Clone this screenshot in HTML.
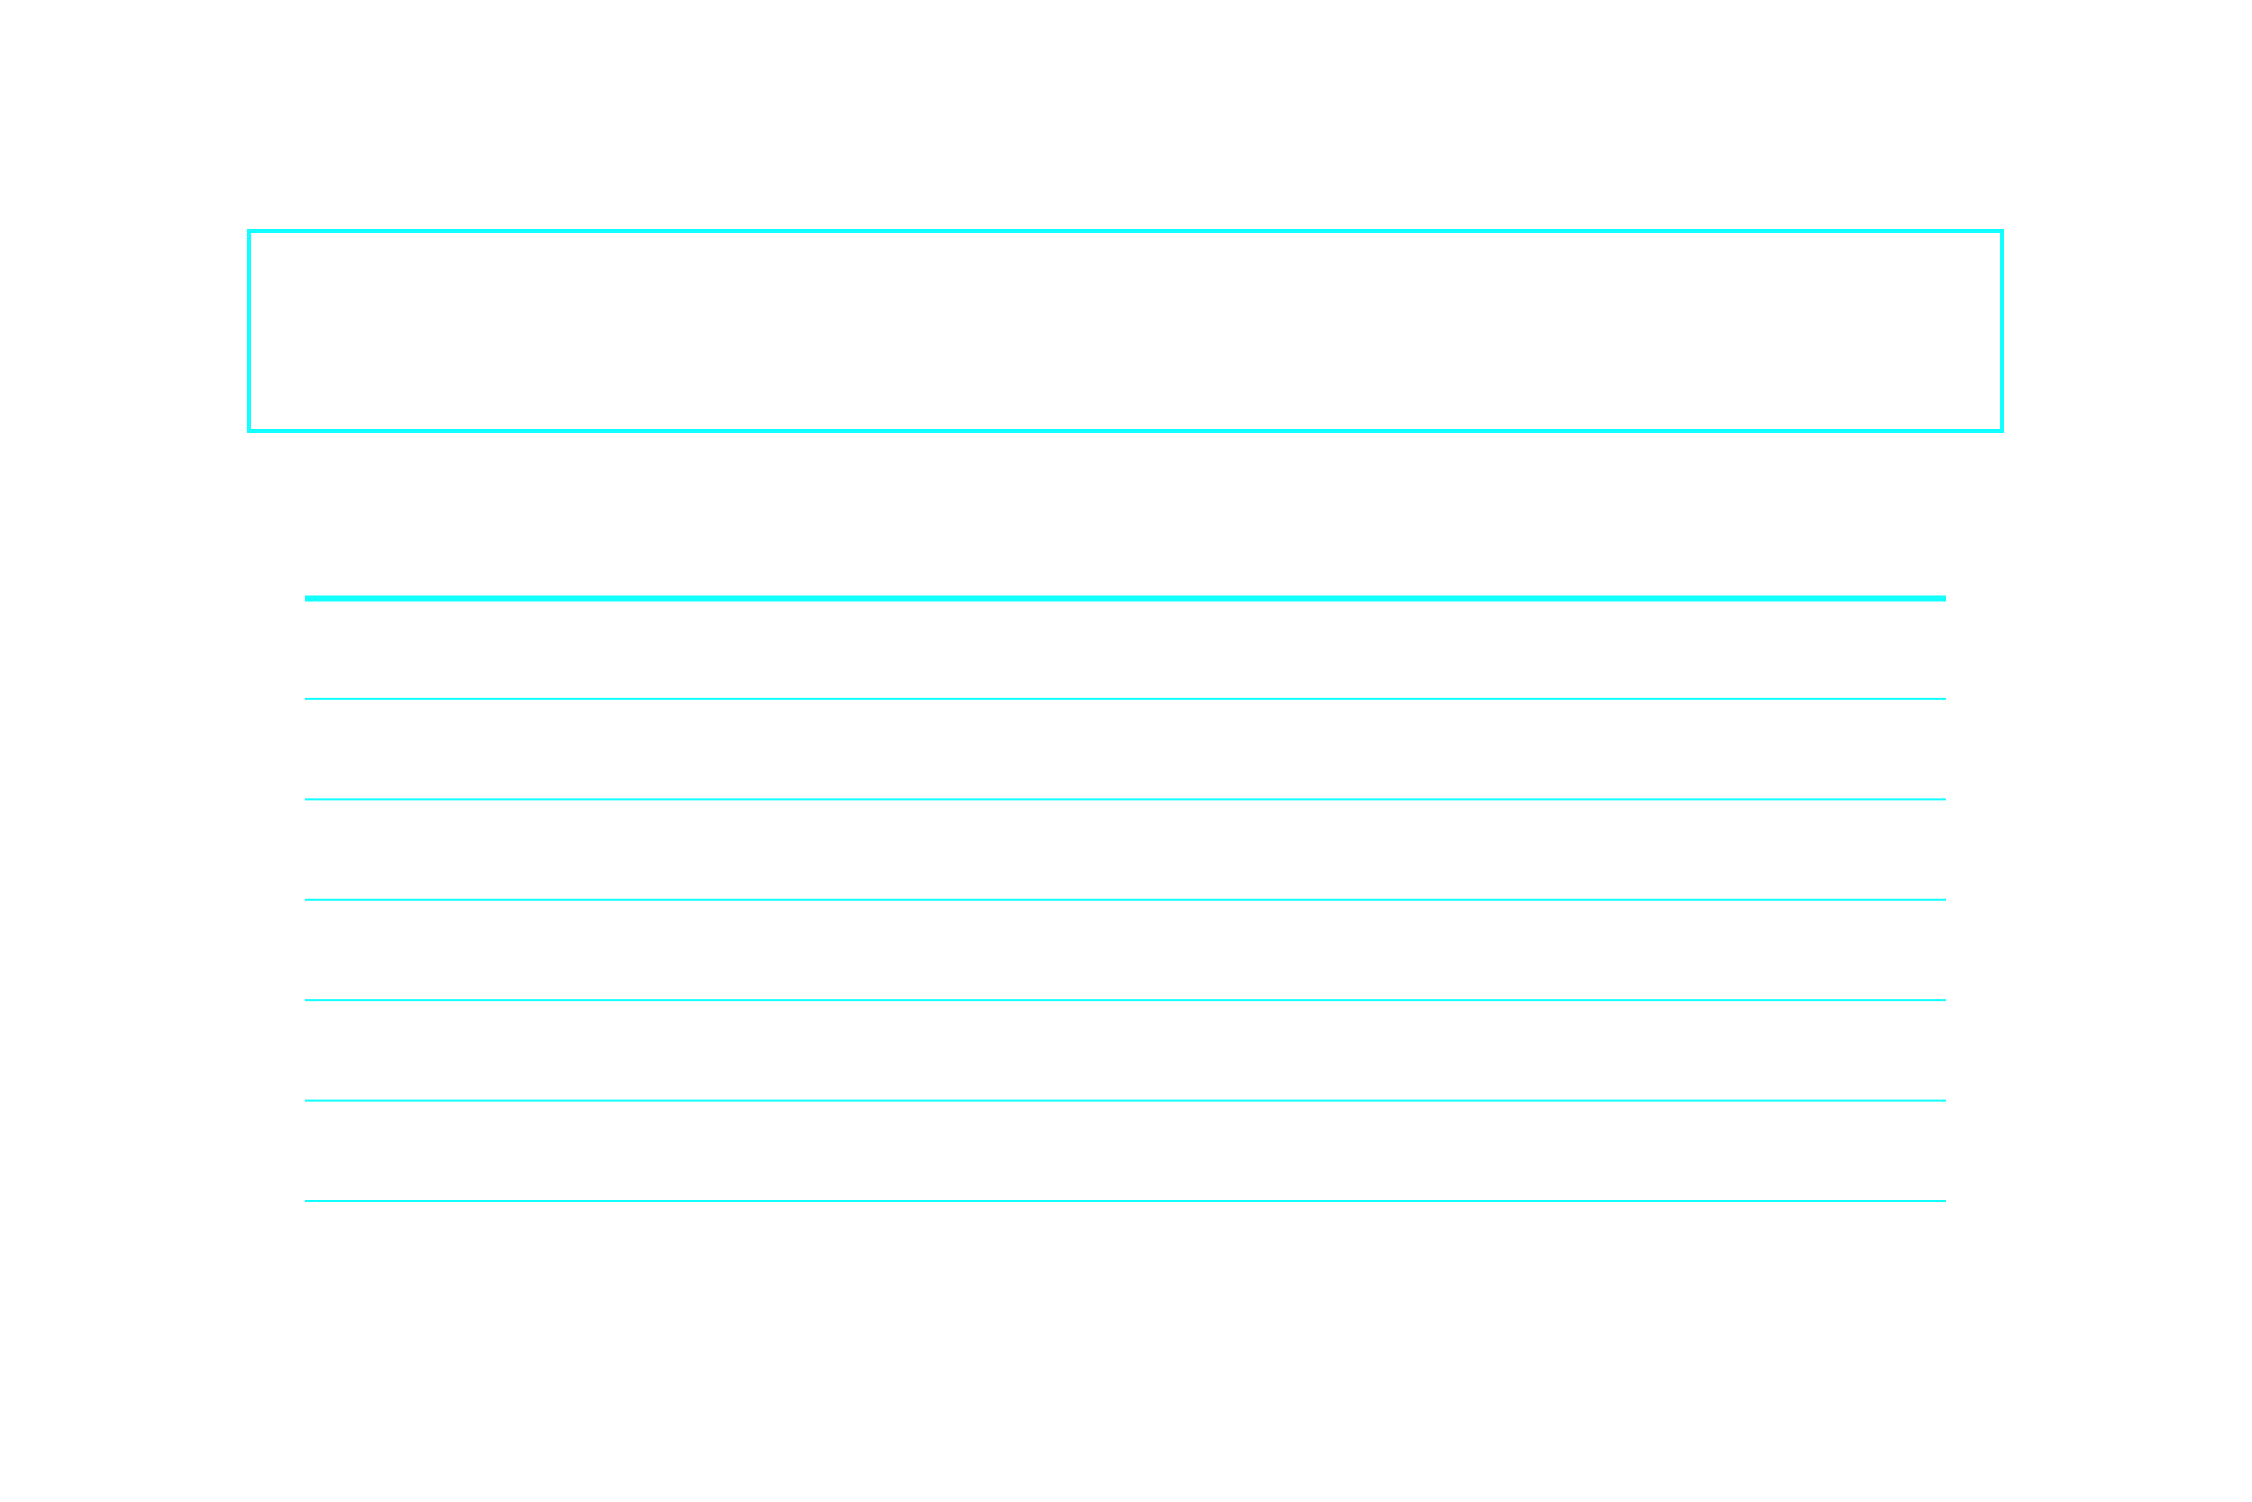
<!DOCTYPE html>
<html><head><meta charset="utf-8"><style>html,body{margin:0;padding:0;background:#fff;}svg{display:block;}</style></head>
<body>
<svg id="chart" width="2252" height="1502" xmlns="http://www.w3.org/2000/svg">
<rect x="249" y="231" width="1753" height="200" fill="none" stroke="#11ffff" stroke-width="4"/>
<g id="grid"></g>
</svg>
<script>
const yTicks = [0, 1, 2, 3, 4, 5, 6];
const yMin = 0, yMax = 6;
const top0 = 598.5, bottom0 = 1201;
function yScale(v){ return top0 + (v - yMin) / (yMax - yMin) * (bottom0 - top0); }
const g = document.getElementById('grid');
yTicks.forEach((t, i) => {
  const l = document.createElementNS('http://www.w3.org/2000/svg', 'line');
  l.setAttribute('x1', 305); l.setAttribute('x2', 1946);
  l.setAttribute('y1', yScale(t)); l.setAttribute('y2', yScale(t));
  l.setAttribute('stroke', '#11ffff');
  l.setAttribute('stroke-width', i === 0 ? 6 : 2);
  
  
  g.appendChild(l);
});
</script>
</body></html>
